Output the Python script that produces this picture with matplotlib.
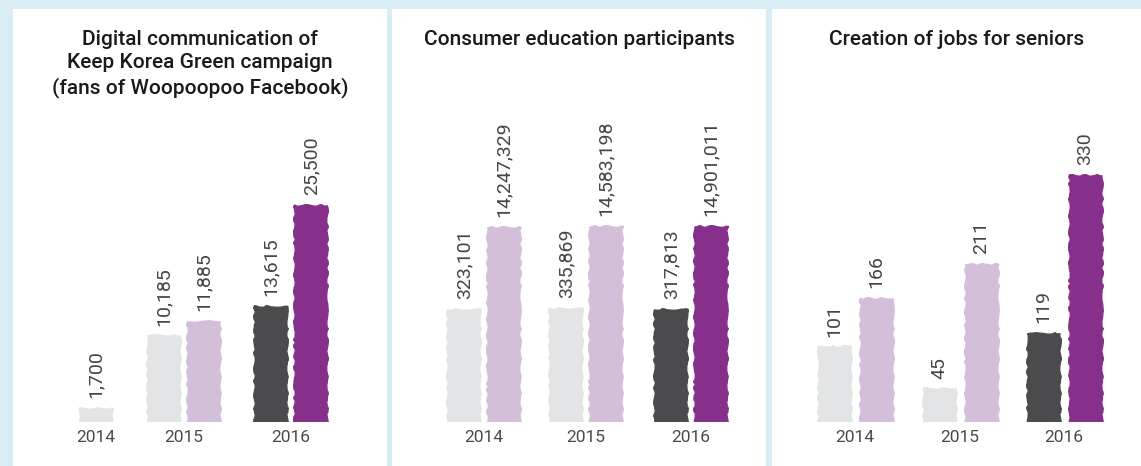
import numpy as np
import matplotlib
matplotlib.use('Agg')
import matplotlib.pyplot as plt
import matplotlib.patches as patches

plt.rcParams['font.family'] = ['Roboto', 'DejaVu Sans']

# data
years = ['2014', '2015', '2016']

fans_prev = [1700, 10185, 13615]
fans_curr = [None, 11885, 25500]

edu_prev = [323101, 335869, 317813]
edu_curr = [14247329, 14583198, 14901011]

jobs_prev = [101, 45, 119]
jobs_curr = [166, 211, 330]

titles = [
    'Digital communication of\nKeep Korea Green campaign\n(fans of Woopoopoo Facebook)',
    'Consumer education participants',
    'Creation of jobs for seniors',
]

# colours: first two years pale, 2016 highlighted
PREV_COLS = ['#e3e4e6', '#e3e4e6', '#4b4b4d']
CURR_COLS = ['#d4bfdb', '#d4bfdb', '#86308c']
BG = '#d9edf4'

W, H = 1141, 466
BASE = 422   # baseline in pixels from the top
TOP = 9

fig = plt.figure(figsize=(W / 100, H / 100), dpi=100, facecolor=BG)

panels = [(13, 387), (392, 766), (772, 1141)]
centers = [[96, 184, 291], [484, 586, 691], [855, 960, 1064]]
half_gap = [20, 20, 21]
bar_w = 33

series = [(fans_prev, fans_curr), (edu_prev, edu_curr), (jobs_prev, jobs_curr)]


def fmt(v):
    return f'{v:,}'


for i, (x0, x1) in enumerate(panels):
    # white card
    fig.patches.append(patches.Rectangle((x0 / W, 0), (x1 - x0) / W, (H - TOP) / H,
                                         transform=fig.transFigure, facecolor='white',
                                         edgecolor='none', zorder=-10))
    ax = fig.add_axes([x0 / W, (H - BASE) / H, (x1 - x0) / W, (BASE - TOP) / H])
    ax.set_facecolor('none')
    for s in ax.spines.values():
        s.set_visible(False)
    ax.set_xlim(x0, x1)
    ax.set_yticks([])

    prev, curr = series[i]
    if i == 1:
        # huge spread between the two series -> log scale
        b0 = 1760
        ax.set_yscale('log')
        ax.set_ylim(b0, b0 * 10 ** ((BASE - TOP) / 50.0))
        ax.set_yticks([])
        ax.minorticks_off()
    else:
        b0 = 0
        top = max(v for v in prev + curr if v is not None)
        hpx = 217 if i == 0 else 247
        ax.set_ylim(0, top * (BASE - TOP) / hpx)

    for j, c in enumerate(centers[i]):
        bars = []
        if curr[j] is None:
            bars.append((c, prev[j], PREV_COLS[j]))
        else:
            bars.append((c - half_gap[i], prev[j], PREV_COLS[j]))
            bars.append((c + half_gap[i], curr[j], CURR_COLS[j]))
        for (bx, v, col) in bars:
            r = ax.bar(bx, v - b0, bottom=b0, width=bar_w, color=col,
                       edgecolor=col, linewidth=1.0)[0]
            r.set_sketch_params(scale=0.8, length=25, randomness=6)
            ax.annotate(fmt(v), (bx, v), xytext=(0, 7), textcoords='offset points',
                        rotation=90, ha='center', va='bottom', fontsize=14,
                        fontweight='normal', color='#454545')

    ax.set_xticks(centers[i])
    ax.set_xticklabels(years)
    ax.tick_params(axis='x', length=0, pad=6, labelsize=12.5, labelcolor='#4a4a4a')

    ax.text(0.5, 1 - 21 / (BASE - TOP), titles[i], transform=ax.transAxes,
            ha='center', va='top', fontsize=15, fontweight='medium',
            color='#1a1a1a', linespacing=1.3)

fig.savefig('out.png', dpi=100, facecolor=BG)
print('Saved: out.png')
